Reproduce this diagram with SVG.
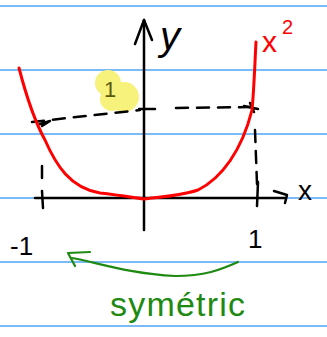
<svg xmlns="http://www.w3.org/2000/svg" width="327" height="337" viewBox="0 0 327 337">
<style>
.rule{stroke:#4da3f5;stroke-width:1.5}
.ink{fill:none;stroke:#000;stroke-width:2.5;stroke-linecap:round;stroke-linejoin:round}
.dash{fill:none;stroke:#000;stroke-width:2.5;stroke-dasharray:12 9;stroke-linecap:round}
.red{fill:none;stroke:#f00;stroke-width:3;stroke-linecap:round;stroke-linejoin:round}
.green{fill:none;stroke:#1e8a12;stroke-width:2.2;stroke-linecap:round;stroke-linejoin:round}
.lbl{font-family:"Liberation Sans",sans-serif}
.hl{fill:#f7f27c}
</style>
<rect width="327" height="337" fill="#fff"/>
<g id="rules">
<line class="rule" x1="0" y1="6" x2="327" y2="6"/>
<line class="rule" x1="0" y1="70" x2="327" y2="70"/>
<line class="rule" x1="0" y1="134" x2="327" y2="134"/>
<line class="rule" x1="0" y1="198" x2="327" y2="198"/>
<line class="rule" x1="0" y1="262" x2="327" y2="262"/>
<line class="rule" x1="0" y1="326" x2="327" y2="326"/>
</g>
<g id="highlight">
<circle class="hl" cx="108" cy="83" r="13"/>
<circle class="hl" cx="124" cy="97" r="15"/>
<circle class="hl" cx="112" cy="99" r="12"/>
<text class="lbl" x="104" y="97" font-size="22" fill="#5a5a10">1</text>
</g>
<g id="connectors">
<path class="dash" d="M32,122 L140,110"/>
<path class="dash" d="M176,108 L252,107"/>
<path class="ink" d="M40,124 L50,121 L42,126"/>
<path class="dash" d="M42,166 L42,185" stroke-dasharray="5 8"/>
<path class="dash" d="M255,130 L257,184" stroke-dasharray="1 11"/>
<path class="ink" d="M244,106 L258,109 M250,103 L254,112"/>
</g>
<g id="axes">
<path class="ink" d="M144,20 L144,230"/>
<path class="ink" d="M135,44 L144,20 L152,40"/>
<path class="ink" d="M35,198 L285,198"/>
<path class="ink" d="M274,191 L287,195 L285,203"/>
<path class="ink" d="M42,191 L43,208"/>
<path class="ink" d="M258,182 L257,206"/>
<path class="ink" d="M139,109 L155,109"/>
</g>
<g id="curve">
<path class="red" d="M19,68 C26,95 34,120 45,140 C56,165 70,188 100,193 C118,195 130,197 144,199 C160,197 180,196 198,190 C222,178 242,150 252,110 C254,90 255,60 256,42"/>
</g>
<g id="labels">
<text class="lbl" x="160" y="50" font-size="40" font-style="italic" fill="#000">y</text>
<text class="lbl" x="262" y="52" font-size="30" fill="#f00">x</text>
<text class="lbl" x="282" y="34" font-size="20" fill="#f00">2</text>
<text class="lbl" x="298" y="200" font-size="28" fill="#000">x</text>
<text class="lbl" x="10" y="255" font-size="26" fill="#000">-1</text>
<text class="lbl" x="248" y="248" font-size="26" fill="#000">1</text>
</g>
<g id="symmetric">
<path class="green" d="M238,262 C220,270 205,276 175,276 C130,274 95,262 72,258"/>
<path class="green" d="M90,252 L68,253 L75,266"/>
<text class="lbl" x="110" y="316" font-size="34" textLength="135" fill="#1e8a12">symétric</text>
</g>
</svg>
